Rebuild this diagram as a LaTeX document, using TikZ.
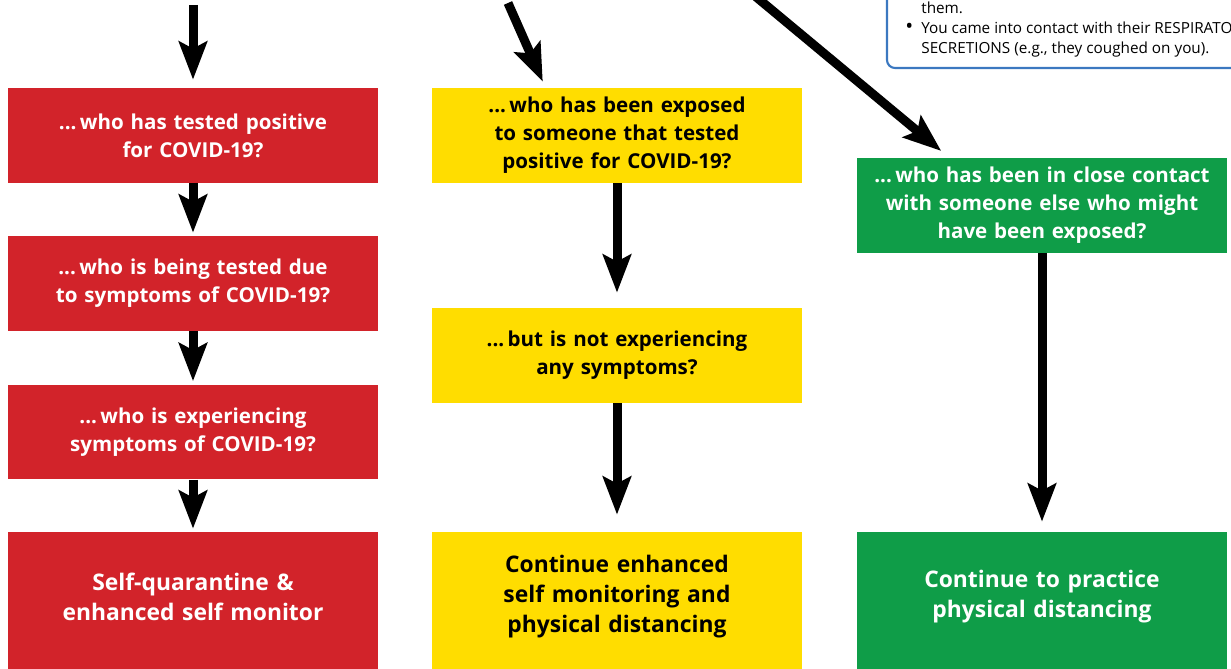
\documentclass[tikz,border=0pt]{standalone}
\usepackage{fontspec}
\setmainfont{Open Sans}
\usetikzlibrary{arrows.meta}

\definecolor{covidred}{HTML}{D2232A}
\definecolor{covidyellow}{HTML}{FFDD00}
\definecolor{covidgreen}{HTML}{0F9D48}
\definecolor{noteblue}{HTML}{3B78C0}

\tikzset{
  box/.style={minimum width=7.4cm, minimum height=1.9cm, inner sep=0pt,
    text width=7.2cm, align=center, font=\bfseries\fontsize{11.7}{15.9}\selectfont},
  redbox/.style={box, fill=covidred, text=white},
  yellowbox/.style={box, fill=covidyellow, text=black},
  greenbox/.style={box, fill=covidgreen, text=white},
  endbox/.style={minimum height=2.74cm},
  endtext/.style={inner sep=0pt, text width=7.2cm, align=center,
    font=\bfseries\fontsize{13}{17}\selectfont},
  flow/.style={line width=0.18cm, -{Stealth[length=0.76cm, width=0.56cm, inset=0.14cm]}},
  noteframe/.style={draw=noteblue, line width=1.2pt, rounded corners=0.16cm},
  notetext/.style={inner sep=0pt, align=left, font=\fontsize{8.7}{11.3}\selectfont},
}
\newcommand{\lead}{...\,}
\newcommand{\notebullet}{\makebox[0.32cm][l]{\raisebox{-0.3pt}{\fontsize{12}{12}\selectfont\textbullet}}}

\begin{document}
\begin{tikzpicture}[x=0.02cm, y=-0.02cm]
  \useasboundingbox (0,0) rectangle (1231,669);
  \clip (0,0) rectangle (1231,669);

  % note box, cut off by the frame
  \draw[noteframe] (887,-40) rectangle (1320,68);
  \node[notetext, anchor=north west] (note) at (905,1.5)
    {\hspace*{0.32cm}them.\\
     \notebullet You came into contact with their RESPIRATORY\\
     \hspace*{0.32cm}SECRETIONS (e.g., they coughed on you).};

  % left column
  \node[redbox] (r1) at (193,135.5) {\lead who has tested positive\\for COVID-19?};
  \node[redbox] (r2) at (193,283.5) {\lead who is being tested due\\to symptoms of COVID-19?};
  \node[redbox] (r3) at (193,432) {\lead who is experiencing\\symptoms of COVID-19?};
  \node[redbox, endbox] (r4) at (193,600.5) {};
  \node[endtext, text=white] (r4text) at ([yshift=0.08cm]r4.center) {Self-quarantine \&\\enhanced self monitor};

  % middle column
  \node[yellowbox] (y1) at (617,135.5) {\lead who has been exposed\\to someone that tested\\positive for COVID-19?};
  \node[yellowbox] (y2) at (617,355.5) {\lead but is not experiencing\\any symptoms?};
  \node[yellowbox, endbox] (y3) at (617,600.5) {};
  \node[endtext] (y3text) at ([yshift=0.08cm]y3.center) {Continue enhanced\\self monitoring and\\physical distancing};

  % right column
  \node[greenbox] (g1) at (1042,205.5) {\lead who has been in close contact\\with someone else who might\\have been exposed?};
  \node[greenbox, endbox] (g2) at (1042,600.5) {};
  \node[endtext, text=white] (g2text) at ([yshift=0.08cm]g2.center) {Continue to practice\\physical distancing};

  \coordinate (startR) at (193,5);
  \coordinate (startY) at (508,3);
  \coordinate (startG) at (755,-4);

  \draw[flow, shorten >=0.16cm] (startR) -- (r1.north);
  \draw[flow, shorten >=0.06cm] (r1) -- (r2);
  \draw[flow, shorten >=0.06cm] (r2) -- (r3);
  \draw[flow, shorten >=0.06cm] (r3) -- (r4);

  \draw[flow, shorten >=0.13cm] (startY) -- ([shift={(113.7,0)}]y1.north west);
  \draw[flow, shorten >=0.3cm] (y1) -- (y2);
  \draw[flow, shorten >=0.34cm] (y2) -- (y3);

  \draw[flow, shorten >=0.21cm] (startG) -- ([shift={(92.6,0)}]g1.north west);
  \draw[flow, shorten >=0.2cm] (g1) -- (g2);
\end{tikzpicture}
\end{document}
